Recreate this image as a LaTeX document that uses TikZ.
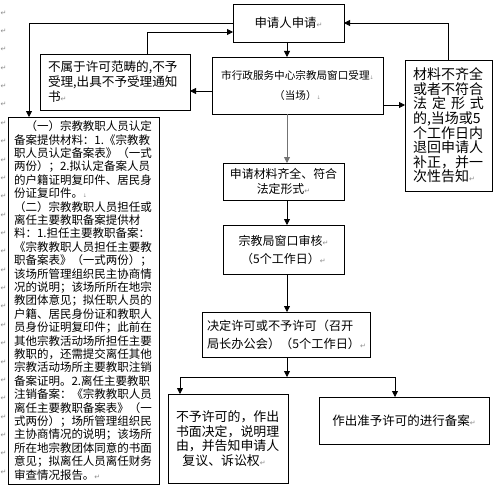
\documentclass[tikz,border=0pt]{standalone}
\usepackage{fontspec}
\setmainfont{Noto Sans CJK SC}
\newfontfamily\djv{DejaVu Sans}
\usetikzlibrary{arrows.meta}
\newcommand\wret{{\djv\fontsize{7}{7}\selectfont\textcolor{black!45}{↵}}}
\newcommand\wbrk{{\djv\fontsize{5}{5}\selectfont\textcolor{black!45}{↓}}}
\begin{document}
\begin{tikzpicture}[x=1pt,y=-1pt,
  box/.style={draw,line width=0.8pt,inner sep=0pt,outer sep=0pt},
  arr/.style={line width=0.8pt,-{Triangle[length=6pt,width=6pt]}},
  ln/.style={line width=0.8pt},
  pmk/.style={inner sep=0pt,text=black!45,font={\djv\fontsize{7}{7}\selectfont}}]
\useasboundingbox (0,0) rectangle (498,487);
\fill[white] (0,0) rectangle (498,487);
\foreach \i in {0,...,25} \node[pmk] (m\i) at (3.5,{13+18.36*\i}) {↵};
\node[box,minimum width=111pt,minimum height=38pt,font=\fontsize{12.4}{15}\selectfont] (A) at (288.5,23) {申请人申请\wret};
\node[box,minimum width=150pt,minimum height=56pt,text width=134pt,align=left,font=\fontsize{12.6}{15}\selectfont] (B) at (115,82) {不属于许可范畴的,不予\\受理,出具不予受理通知\\书\wret};
\node[box,minimum width=171pt,minimum height=57pt,align=center,font=\fontsize{10.6}{20}\selectfont] (C) at (297.5,85.5) {市行政服务中心宗教局窗口受理\wbrk\\（当场）\wbrk};
\node[box,minimum width=87pt,minimum height=131pt,text width=71pt,align=left,font=\fontsize{14}{14.4}\selectfont] (D) at (448.5,125.5) {材料不齐全\\或者不符合\\法\hfill 定\hfill 形\hfill 式\\的,当场或5\\个工作日内\\退回申请人\\补正，并一\\次性告知\wret};
\node[box,minimum width=151pt,minimum height=367pt,text width=139pt,align=left,font=\fontsize{11.5}{13.4}\selectfont] (E) at (83.5,300.5) {\hspace*{1em}（一）宗教教职人员认定\\备案提供材料：1.《宗教教\\职人员认定备案表》（一式\\两份）；2.拟认定备案人员\\的户籍证明复印件、居民身\\份证复印件。\wbrk\\（二）宗教教职人员担任或\\离任主要教职备案提供材\\料：1.担任主要教职备案：\\《宗教教职人员担任主要教\\职备案表》（一式两份）；\\该场所管理组织民主协商情\\况的说明；该场所所在地宗\\教团体意见；拟任职人员的\\户籍、居民身份证和教职人\\员身份证明复印件；此前在\\其他宗教活动场所担任主要\\教职的，还需提交离任其他\\宗教活动场所主要教职注销\\备案证明。2.离任主要教职\\注销备案：《宗教教职人员\\离任主要教职备案表》（一\\式两份）；场所管理组织民\\主协商情况的说明；该场所\\所在地宗教团体同意的书面\\意见；拟离任人员离任财务\\审查情况报告。\wret};
\node[box,minimum width=121pt,minimum height=37pt,align=center,font=\fontsize{11.9}{15}\selectfont] (F) at (283.5,181.5) {申请材料齐全、符合\\法定形式\wret};
\node[box,minimum width=121pt,minimum height=49pt,align=center,font=\fontsize{12}{18}\selectfont] (G) at (283.5,249.5) {宗教局窗口审核\wret\\（5个工作日）\wret};
\node[box,minimum width=168pt,minimum height=45pt,text width=158pt,align=left,font=\fontsize{12.2}{18}\selectfont] (H) at (286,334.5) {决定许可或不予许可（召开\\局长办公会）（5个工作日）\wret};
\node[box,minimum width=120pt,minimum height=89pt,text width=104pt,align=left,font=\fontsize{12.9}{14.5}\selectfont] (I) at (228,438.5) {不予许可的，作出\\书面决定，说明理\\由，并告知申请人\\\hspace*{0.5em}复议、诉讼权\wret};
\node[box,minimum width=170pt,minimum height=47pt,align=center,font=\fontsize{12.5}{15}\selectfont] (J) at (404,420.5) {作出准予许可的进行备案\wret};
\coordinate (vx) at (287,0);
\coordinate (J0) at (287,377);
% connectors
\draw[arr] (A.west) -| ([xshift=21pt]E.north west);
\draw[arr] ([xshift=32pt]B.north) |- ([yshift=-9pt]A.west);
\draw[arr] ([yshift=-5.5pt]C.west) -- ([yshift=-5.5pt]C.west -| B.east);
\draw[arr] (vx |- A.south) -- (vx |- C.north);
\draw[arr] ([yshift=-19.5pt]C.east) -- ([yshift=-19.5pt]C.east -| D.west);
\draw[arr] (D.north) |- (A.east);
\draw[arr,draw=black!55] (vx |- C.south) -- (vx |- F.north);
\draw[arr] (vx |- F.south) -- (vx |- G.north);
\draw[arr] (vx |- G.south) -- (vx |- H.north);
\draw[arr] (vx |- H.south) -- (J0);
\draw[arr] (J0) -| ([xshift=12pt]I.north west);
\draw[arr] (J0) -| ([xshift=-9pt]J.north);
\end{tikzpicture}
\end{document}
